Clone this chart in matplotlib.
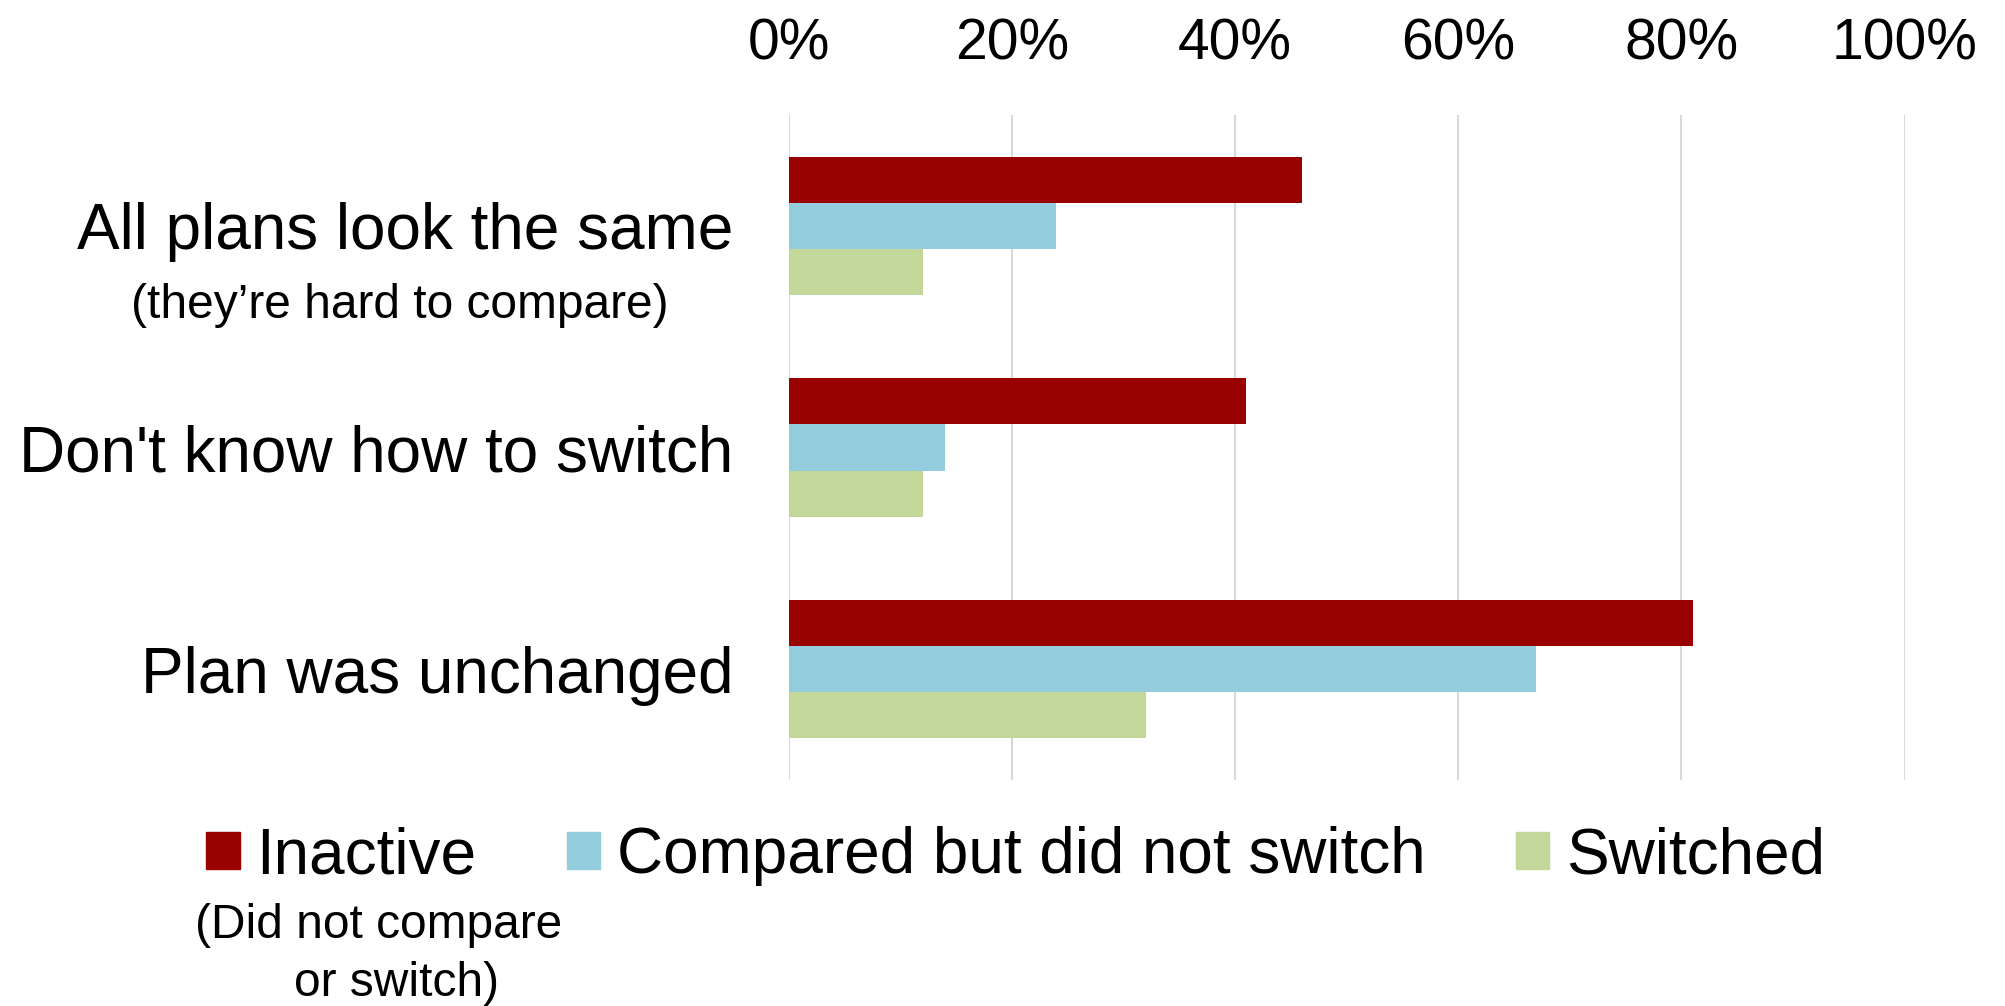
import numpy as np
from matplotlib import pyplot as plt
from matplotlib.patches import Patch

categories = ["All plans look the same", "Don't know how to switch", "Plan was unchanged"]
cat_note = "(they\u2019re hard to compare)"
series_names = ["Inactive", "Compared but did not switch", "Switched"]
inactive = [46, 41, 81]
compared = [24, 14, 67]
switched = [12, 12, 32]
xticks = [0, 20, 40, 60, 80, 100]
colors = ["#990000", "#93cddd", "#c4d79b"]

plt.rcParams["font.family"] = ["Liberation Sans", "DejaVu Sans"]

fig = plt.figure(figsize=(20.06, 10.06), dpi=100)
ax = fig.add_axes([788.6 / 2006, 1 - 780 / 1006, 1116 / 2006, (780 - 115) / 1006])

y = np.arange(len(categories))
h = 0.208
for i, (vals, name, col) in enumerate(zip([inactive, compared, switched], series_names, colors)):
    ax.barh(y + (i - 1) * h, vals, height=h, color=col, label=name, zorder=3)

ax.set_xlim(0, 100)
ax.set_ylim(2.5, -0.5)
ax.xaxis.tick_top()
ax.set_xticks(xticks)
ax.set_xticklabels([f"{t}%" for t in xticks], fontsize=41)
ax.set_yticks(y)
ax.set_yticklabels(categories, fontsize=46)
ax.tick_params(axis="both", length=0)
ax.tick_params(axis="x", pad=31)
ax.tick_params(axis="y", pad=40)
ax.grid(axis="x", color="#d9d9d9", linewidth=1.5, zorder=0)
for s in ax.spines.values():
    s.set_visible(False)

ax.annotate(cat_note, xy=(0, 0), xycoords=ax.get_yaxis_transform(),
            xytext=(-280, -57), textcoords="offset points",
            ha="center", va="center", fontsize=34.5)

handles = [Patch(color=c) for c in colors]
fig.legend(handles, series_names, loc="center", bbox_to_anchor=(0.5063, 0.149),
           ncol=3, frameon=False, fontsize=46, handlelength=0.52, handleheight=0.52,
           handletextpad=0.26, columnspacing=1.42)
# note under "Inactive", two lines set a little off-centre as in the original
fig.text(379 / 2006, 1 - 926 / 1006, "(Did not compare", ha="center", va="center",
         fontsize=34.5)
fig.text(397 / 2006, 1 - 983 / 1006, "or switch)", ha="center", va="center",
         fontsize=34.5)

fig.savefig("out.png", dpi=100)
